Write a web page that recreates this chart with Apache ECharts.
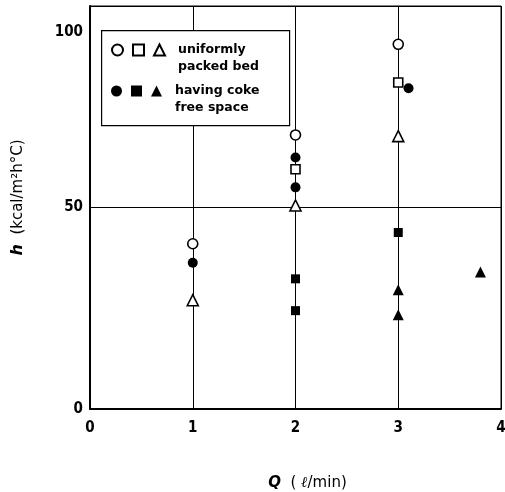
<!DOCTYPE html>
<html><head><meta charset="utf-8">
<script src="https://cdn.jsdelivr.net/npm/echarts@6/dist/echarts.min.js"></script>
<style>html,body{margin:0;padding:0;background:#fff}#c{width:505px;height:492px}</style>
</head><body><div id="c"></div>
<script>
// Data (Q in l/min, h in kcal/m2h°C)
const uniformCircle   = [[1, 41], [2, 68], [3, 90.5]];
const uniformSquare   = [[2, 59.5], [3, 81]];
const uniformTriangle = [[1, 27], [2, 50.5], [3, 67.7]];
const cokeCircle      = [[1, 36.3], [2, 62.4], [2, 55], [3.1, 79.6]];
const cokeSquare      = [[2, 32.3], [2, 24.4], [3, 43.8]];
const cokeTriangle    = [[3, 29.6], [3, 23.4], [3.8, 34]];
const xTicks = [0, 1, 2, 3, 4];
const yTicks = [0, 50, 100];
const legendLines1 = ['uniformly', 'packed bed'];
const legendLines2 = ['having coke', 'free space'];

const chart = echarts.init(document.getElementById('c'));
const tickFont = {fontFamily: 'Liberation Sans Narrow, DejaVu Sans Condensed, sans-serif', fontWeight: 'bold', fontSize: 15, color: '#000'};
function sc(name, data, symbol, filled, size) {
  return {
    type: 'scatter', name: name, data: data, symbol: symbol, symbolSize: size, z: 5,
    itemStyle: filled ? {color: '#000', borderColor: '#000', borderWidth: 0, opacity: 1}
                      : {color: '#fff', borderColor: '#000', borderWidth: 1.6, opacity: 1}
  };
}
function legendLabel(lines) {
  return '{a|}\n' + lines.map(l => '{a|' + l + '}').join('\n');
}
const legendFont = {fontFamily: 'DejaVu Sans', fontWeight: 'bold', fontSize: 12.5, color: '#000', lineHeight: 17};
const legendBase = {
  selectedMode: false, itemWidth: 11, itemHeight: 11, itemGap: 4, left: 106,
  textStyle: Object.assign({rich: {a: Object.assign({padding: [0, 0, 0, 8]}, legendFont)}}, legendFont)
};
chart.setOption({
  animation: false,
  grid: {left: 90, right: 4, top: 6, bottom: 83, outerBoundsMode: 'none', containLabel: false,
         show: true, borderColor: '#000', borderWidth: 1, backgroundColor: 'transparent'},
  legend: [
    Object.assign({}, legendBase, {top: 19.5, data: ['uc', 'us', 'ut'], formatter: n => n === 'ut' ? legendLabel(legendLines1) : ''}),
    Object.assign({}, legendBase, {top: 60.5, data: ['cc', 'cs', 'ct'], formatter: n => n === 'ct' ? legendLabel(legendLines2) : ''})
  ],
  graphic: [{
    type: 'rect', left: 101, top: 30, z: 3,
    shape: {width: 188, height: 95},
    style: {fill: '#fff', stroke: '#000', lineWidth: 1.2}
  }],
  xAxis: {
    type: 'value', min: xTicks[0], max: xTicks[xTicks.length - 1], interval: 1,
    axisLine: {show: true, onZero: false, lineStyle: {color: '#000', width: 2}},
    axisTick: {show: false},
    splitLine: {show: true, lineStyle: {color: '#000', width: 1}},
    axisLabel: Object.assign({margin: 12}, tickFont),
    name: '{q|Q}  ( {l|ℓ}/min)', nameLocation: 'middle', nameGap: 67,
    nameTextStyle: {fontFamily: 'DejaVu Sans', fontSize: 15, color: '#000', padding: [0, 0, 0, 24],
      rich: {q: {fontFamily: 'DejaVu Sans', fontStyle: 'italic', fontWeight: 'bold', fontSize: 15},
             l: {fontFamily: 'DejaVu Serif', fontStyle: 'italic', fontWeight: 'bold', fontSize: 15}}}
  },
  yAxis: {
    type: 'value', min: yTicks[0], max: yTicks[yTicks.length - 1], interval: 50,
    axisLine: {show: true, onZero: false, lineStyle: {color: '#000', width: 2}},
    axisTick: {show: false},
    splitLine: {show: true, lineStyle: {color: '#000', width: 1}},
    axisLabel: Object.assign({margin: 7,
      formatter: v => v === 100 ? '{t|' + v + '}' : String(v),
      rich: {t: Object.assign({padding: [52, 0, 0, 0]}, tickFont)}}, tickFont),
    name: '{h|h}  (kcal/m²h°C)', nameLocation: 'middle', nameGap: 64, nameRotate: 90,
    nameTextStyle: {fontFamily: 'DejaVu Sans', fontSize: 15, color: '#000', padding: [0, 0, 0, 20],
      rich: {h: {fontFamily: 'DejaVu Sans', fontStyle: 'italic', fontWeight: 'bold', fontSize: 16}}}
  },
  series: [
    sc('uc', uniformCircle, 'circle', false, 10),
    sc('us', uniformSquare, 'rect', false, 9),
    sc('ut', uniformTriangle, 'triangle', false, 11),
    sc('cc', cokeCircle, 'circle', true, 10),
    sc('cs', cokeSquare, 'rect', true, 9),
    sc('ct', cokeTriangle, 'triangle', true, 11)
  ]
});
</script></body></html>
